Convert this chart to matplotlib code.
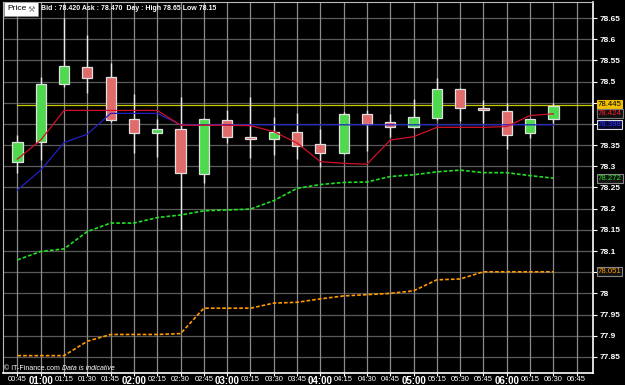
import matplotlib
matplotlib.use("Agg")
import matplotlib.pyplot as plt
from matplotlib.patches import Rectangle

# 15 minute bars, 00:45 -> 06:30
times = ["00:45", "01:00", "01:15", "01:30", "01:45", "02:00", "02:15", "02:30",
         "02:45", "03:00", "03:15", "03:30", "03:45", "04:00", "04:15", "04:30",
         "04:45", "05:00", "05:15", "05:30", "05:45", "06:00", "06:15", "06:30"]
tick_labels = times + ["06:45"]

opens = [78.310, 78.357, 78.494, 78.535, 78.510, 78.411, 78.378, 78.388,
         78.281, 78.409, 78.369, 78.365, 78.380, 78.352, 78.332, 78.424,
         78.405, 78.392, 78.415, 78.483, 78.438, 78.431, 78.378, 78.412]
highs = [78.374, 78.512, 78.650, 78.610, 78.545, 78.471, 78.412, 78.464,
         78.415, 78.433, 78.463, 78.417, 78.427, 78.387, 78.428, 78.433,
         78.424, 78.459, 78.508, 78.485, 78.457, 78.449, 78.412, 78.450]
lows = [78.284, 78.315, 78.488, 78.474, 78.405, 78.332, 78.321, 78.150,
        78.260, 78.356, 78.320, 78.327, 78.317, 78.298, 78.330, 78.337,
        78.370, 78.390, 78.409, 78.408, 78.402, 78.340, 78.368, 78.402]
closes = [78.357, 78.495, 78.536, 78.508, 78.409, 78.378, 78.387, 78.285,
          78.412, 78.370, 78.364, 78.380, 78.349, 78.332, 78.424, 78.401,
          78.394, 78.416, 78.483, 78.438, 78.432, 78.375, 78.411, 78.443]

red_line = [78.317, 78.362, 78.432, 78.432, 78.432, 78.432, 78.432, 78.397,
            78.397, 78.397, 78.396, 78.382, 78.355, 78.311, 78.307, 78.305,
            78.362, 78.370, 78.392, 78.392, 78.392, 78.394, 78.420, 78.424]
blue_line = [78.244, 78.291, 78.356, 78.376, 78.425, 78.425, 78.425, 78.398,
             78.398, 78.398, 78.398, 78.398, 78.398, 78.398, 78.398, 78.398,
             78.398, 78.398, 78.398, 78.398, 78.398, 78.398, 78.398, 78.398]
green_ma = [78.079, 78.099, 78.105, 78.146, 78.166, 78.166, 78.179, 78.185,
            78.195, 78.197, 78.199, 78.219, 78.248, 78.257, 78.262, 78.263,
            78.276, 78.280, 78.287, 78.291, 78.285, 78.285, 78.278, 78.272]
orange_ma = [77.853, 77.853, 77.853, 77.887, 77.903, 77.903, 77.903, 77.905,
             77.965, 77.965, 77.965, 77.977, 77.979, 77.987, 77.994, 77.997,
             78.000, 78.006, 78.032, 78.034, 78.051, 78.051, 78.051, 78.051]
last_price = 78.445

y_ticks = [77.85, 77.9, 77.95, 78.0, 78.05, 78.1, 78.15, 78.2, 78.25,
           78.3, 78.35, 78.4, 78.45, 78.5, 78.55, 78.6, 78.65]
# tick labels hidden behind the value boxes in the original
hidden_ticks = [78.05, 78.4, 78.45]

W, H = 625, 385
fig = plt.figure(figsize=(W / 100, H / 100), dpi=100, facecolor="black")
ax = fig.add_axes([3 / W, 1 - 373 / H, 590 / W, 371 / H], facecolor="black")

ax.set_xlim(-0.62, 24.7)
ax.set_ylim(77.812, 78.688)

# grid
for yv in y_ticks:
    ax.axhline(yv, color="#5a5a5a", lw=0.9, zorder=0)
for i in range(len(tick_labels)):
    ax.axvline(i, color="#8a8a8a", lw=0.9, zorder=0)

# candles
x = list(range(len(times)))
for i in x:
    o, h, l, c = opens[i], highs[i], lows[i], closes[i]
    ax.vlines(i, l, h, color="#e8e8e8", lw=1.0, zorder=2)
    col = "#4fd94f" if c >= o else "#e06b6b"
    lo = min(o, c)
    ht = max(abs(c - o), 0.003)
    ax.add_patch(Rectangle((i - 0.22, lo), 0.44, ht, facecolor=col,
                           edgecolor="#e0e0e0", lw=0.9, zorder=3))

# indicator lines
ax.plot([0, 24.7], [last_price, last_price], color="#c8c800", lw=0.9, zorder=1)
ax.plot(x, blue_line, color="#2020c8", lw=0.9, zorder=4)
ax.plot(x, red_line, color="#d0102a", lw=0.9, zorder=4)
ax.plot(x, green_ma, color="#22e022", lw=1.2, ls=(0, (2.2, 1.2)), zorder=4)
ax.plot(x, orange_ma, color="#ff9a00", lw=1.2, ls=(0, (2.2, 1.2)), zorder=4)

# axes styling
for s in ["left", "top"]:
    ax.spines[s].set_color("#bbbbbb")
    ax.spines[s].set_linewidth(0.8)
for s in ["right", "bottom"]:
    ax.spines[s].set_color("white")
    ax.spines[s].set_linewidth(1.2)

ax.yaxis.tick_right()
ax.set_yticks(y_ticks)
ylabels = []
for v in y_ticks:
    if v in hidden_ticks:
        ylabels.append("")
    else:
        ylabels.append(("%.2f" % v).rstrip("0").rstrip("."))
ax.set_yticklabels(ylabels)
ax.tick_params(axis="y", colors="white", labelcolor="white", length=3,
               width=0.8, pad=1.5, labelsize=6)
for t in ax.get_yticklabels():
    t.set_fontweight("bold")
    t.set_family("Liberation Sans")

ax.set_xticks(range(len(tick_labels)))
ax.set_xticklabels(tick_labels)
ax.tick_params(axis="x", colors="white", labelcolor="white", length=2,
               width=0.8, pad=0.5)
for t in ax.get_xticklabels():
    t.set_family("Liberation Sans")
    if t.get_text().endswith(":00"):
        t.set_fontsize(7)
        t.set_fontweight("bold")
    else:
        t.set_fontsize(5.5)

# value boxes on the right
boxes = [(last_price, "%.3f" % last_price, "black", "#f0c000", "#f0c000"),
         (red_line[-1], "%.3f" % red_line[-1], "#ff1a2a", "#111111", "#777777"),
         (blue_line[-1], "%.3f" % blue_line[-1], "#3030ff", "#0a0a30", "#dddddd"),
         (green_ma[-1], "%.3f" % green_ma[-1], "#22e022", "#111111", "#888888"),
         (orange_ma[-1], "%.3f" % orange_ma[-1], "#ff9a00", "#111111", "#888888")]
for yv, txt, tc, bg, ec in boxes:
    ax.annotate(txt, xy=(1.0, yv), xycoords=("axes fraction", "data"),
                xytext=(3.3, 0), textcoords="offset points", ha="left",
                va="center", fontsize=5.6, color=tc, family="Liberation Sans",
                bbox=dict(boxstyle="square,pad=0.12", fc=bg, ec=ec, lw=0.8),
                annotation_clip=False, zorder=6)

# header
fig.patches.append(Rectangle((4 / W, 1 - 16 / H), 34 / W, 14 / H,
                             transform=fig.transFigure, facecolor="white",
                             edgecolor="#999999", lw=0.5, zorder=5))
fig.text(7 / W, 1 - 9 / H, "Price", fontsize=6, color="black", va="center",
         family="Liberation Sans", zorder=6)
fig.text(28 / W, 1 - 9 / H, "\u2692", fontsize=6, color="#777777",
         va="center", zorder=6)
fig.text(41 / W, 1 - 8 / H,
         "Bid : 78.420 Ask : 78.470  Day : High 78.65 Low 78.15",
         fontsize=5, color="white", fontweight="bold", va="center",
         family="Liberation Sans", zorder=6)

# footer
fig.text(4 / W, 1 - 369 / H, "\u00a9 IT-Finance.com", fontsize=5,
         color="white", va="center", family="Liberation Sans")
fig.text(62 / W, 1 - 369 / H, "Data is indicative", fontsize=5,
         color="white", va="center", style="italic", family="Liberation Sans")

fig.savefig("out.png", dpi=100, facecolor="black")
